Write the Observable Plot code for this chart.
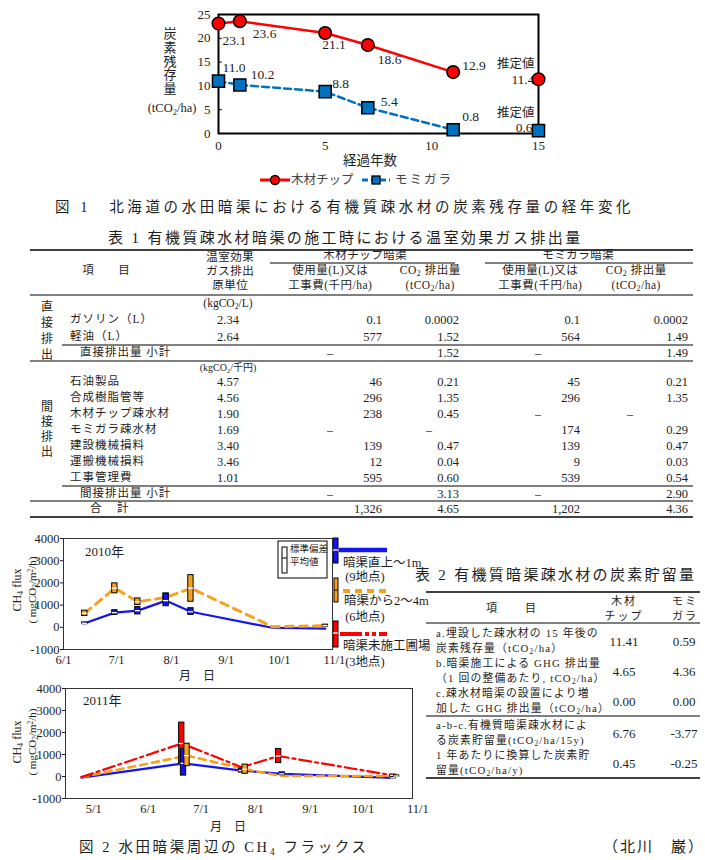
<!DOCTYPE html>
<html><head><meta charset="utf-8">
<script src="https://cdn.jsdelivr.net/npm/d3@7"></script>
<script src="https://cdn.jsdelivr.net/npm/@observablehq/plot@0.6"></script>
<style>
html,body{margin:0;padding:0;background:#fff;}
#root{position:relative;width:705px;height:860px;overflow:hidden;background:#fff;
 font-family:"Liberation Serif","Noto Sans CJK JP",serif;color:#1e1e1e;font-size:12px;}
#root svg{position:absolute;}
.t{position:absolute;white-space:nowrap;line-height:1;}
.t sub{font-size:0.68em;line-height:0;vertical-align:baseline;position:relative;top:0.3em;}
.t sup{font-size:0.68em;line-height:0;vertical-align:baseline;position:relative;top:-0.4em;}
</style></head><body><div id="root"></div>
<script>
// ================= DATA =================
// Figure 1: carbon remaining (tCO2/ha) by years elapsed
const fig1Years = [0, 1, 5, 7, 11];
const chipRemain = [23.1, 23.6, 21.1, 18.6, 12.9];
const huskRemain = [11.0, 10.2, 8.8, 5.4, 0.8];
const estimateYear = 15;
const chipEstimate = 11.4;
const huskEstimate = 0.6;
const fig1XTicks = [0, 5, 10, 15];
const fig1YTicks = [0, 5, 10, 15, 20, 25];
const fig1SeriesNames = ["木材チップ", "モミガラ"];

// Table 1
const directItems = ["ガソリン（L）", "軽油（L）"];
const directFactor = ["2.34", "2.64"];
const directChipUse = ["0.1", "577"];
const directChipCO2 = ["0.0002", "1.52"];
const directHuskUse = ["0.1", "564"];
const directHuskCO2 = ["0.0002", "1.49"];
const directSubtotal = ["–", "1.52", "–", "1.49"];
const indirectItems = ["石油製品", "合成樹脂管等", "木材チップ疎水材", "モミガラ疎水材", "建設機械損料", "運搬機械損料", "工事管理費"];
const indirectFactor = ["4.57", "4.56", "1.90", "1.69", "3.40", "3.46", "1.01"];
const indirectChipUse = ["46", "296", "238", "–", "139", "12", "595"];
const indirectChipCO2 = ["0.21", "1.35", "0.45", "–", "0.47", "0.04", "0.60"];
const indirectHuskUse = ["45", "296", "–", "174", "139", "9", "539"];
const indirectHuskCO2 = ["0.21", "1.35", "–", "0.29", "0.47", "0.03", "0.54"];
const indirectSubtotal = ["–", "3.13", "–", "2.90"];
const grandTotal = ["1,326", "4.65", "1,202", "4.36"];

// Table 2
const t2Items = [
  ["a.埋設した疎水材の 15 年後の", "炭素残存量（tCO<sub>2</sub>/ha）"],
  ["b.暗渠施工による GHG 排出量", "（1 回の整備あたり, tCO<sub>2</sub>/ha）"],
  ["c.疎水材暗渠の設置により増", "加した GHG 排出量（tCO<sub>2</sub>/ha）"],
  ["a-b-c.有機質暗渠疎水材によ", "る炭素貯留量(tCO<sub>2</sub>/ha/15y)"],
  ["1 年あたりに換算した炭素貯", "留量(tCO<sub>2</sub>/ha/y)"]
];
const t2Chip = ["11.41", "4.65", "0.00", "6.76", "0.45"];
const t2Husk = ["0.59", "4.36", "0.00", "-3.77", "-0.25"];

// Figure 2: CH4 flux (mgCO2/m2/h), mean and ±SD range
const fluxNames = ["暗渠直上～1m", "暗渠から2～4m", "暗渠未施工圃場"];
const fluxSites = ["(9地点)", "(6地点)", "(3地点)"];
const f2010Dates = ["2010-06-13", "2010-06-30", "2010-07-13", "2010-07-29", "2010-08-12", "2010-09-27", "2010-10-27"];
const f2010AboveMean = [180, 660, 750, 1200, 700, -20, -60];
const f2010AboveLow  = [140, 560, 580, 950, 560, -20, -60];
const f2010AboveHigh = [220, 770, 910, 1500, 860, -20, -60];
const f2010NearMean  = [630, 1760, 1150, 1350, 1760, 30, 70];
const f2010NearLow   = [510, 1530, 1000, 1260, 1150, 30, 20];
const f2010NearHigh  = [750, 1980, 1300, 1530, 2350, 30, 120];

const f2011AboveDates = ["2011-04-24", "2011-06-21", "2011-07-24", "2011-08-16", "2011-10-18"];
const f2011AboveMean  = [-50, 600, 270, 120, -60];
const f2011AboveLow   = [-50, 40, 180, 60, -90];
const f2011AboveHigh  = [-50, 1250, 360, 190, -30];
const f2011NearDates  = ["2011-04-24", "2011-06-23", "2011-07-26", "2011-08-16", "2011-10-20"];
const f2011NearMean   = [-30, 950, 330, 20, 20];
const f2011NearLow    = [-30, 470, 120, 20, -10];
const f2011NearHigh   = [-30, 1490, 540, 20, 50];
const f2011NoneDates  = ["2011-04-24", "2011-06-20", "2011-07-24", "2011-08-14", "2011-10-18"];
const f2011NoneMean   = [-30, 1500, 420, 930, 50];
const f2011NoneLow    = [-30, 610, 420, 610, 10];
const f2011NoneHigh   = [-30, 2450, 420, 1250, 90];
const fluxYTicks = [-1000, 0, 1000, 2000, 3000, 4000];
const f2010XTicks = ["2010-06-01", "2010-07-01", "2010-08-01", "2010-09-01", "2010-10-01", "2010-11-01"];
const f2011XTicks = ["2011-05-01", "2011-06-01", "2011-07-01", "2011-08-01", "2011-09-01", "2011-10-01", "2011-11-01"];

// ================= LAYOUT HELPERS =================
const RED = "#ff0000", BLUE1 = "#0070c0", BLUE2 = "#1414ee", ORANGE = "#f8a020";
const FONT = '"Liberation Serif","Noto Sans CJK JP",serif';
const root = d3.select("#root");
function place(svg, left, top) {
  d3.select(svg).style("position", "absolute").style("left", left + "px").style("top", top + "px");
  root.node().appendChild(svg);
}
const deco = root.append("svg").attr("width", 705).attr("height", 860).style("left", 0).style("top", 0);
function L(x1, y1, x2, y2, o = {}) {
  deco.append("line").attr("x1", x1).attr("y1", y1).attr("x2", x2).attr("y2", y2)
    .attr("stroke", o.s || "#000").attr("stroke-width", o.w || 1)
    .attr("stroke-dasharray", o.d || null);
}
function R(x, y, w, h, fill, o = {}) {
  deco.append("rect").attr("x", x).attr("y", y).attr("width", w).attr("height", h)
    .attr("fill", fill).attr("stroke", o.s || "#000").attr("stroke-width", o.w || 1);
}
function T(html, x, y, o = {}) {
  const a = o.a || "s";
  const d = root.append("div").attr("class", "t").html(html)
    .style("left", x + "px").style("top", y + "px")
    .style("transform", `translate(${a === "m" ? "-50%" : a === "e" ? "-100%" : "0"},-50%)` + (o.rot ? " rotate(-90deg)" : ""));
  if (o.fs) d.style("font-size", o.fs + "px");
  if (o.ls != null) { d.style("letter-spacing", o.ls + "px"); if (a === "m") d.style("padding-left", o.ls + "px"); }
  if (o.c) d.style("color", o.c);
  return d;
}

// ================= FIGURE 1 =================
const fmt1 = d3.format(".1f");
const chipPts = fig1Years.map((x, i) => ({x, v: chipRemain[i]}));
const huskPts = fig1Years.map((x, i) => ({x, v: huskRemain[i]}));
const chipEst = [{x: estimateYear, v: chipEstimate}];
const huskEst = [{x: estimateYear, v: huskEstimate}];
const chipOff = [[4, 17], [13, 13], [-3, 12], [10, 15], [9, -6]];
const huskOff = [[4, -13], [11, -10], [7, -8], [13, -6], [9, -13]];
const fig1 = Plot.plot({
  width: 705, height: 170, marginLeft: 218, marginRight: 167, marginTop: 14, marginBottom: 37,
  style: {fontFamily: FONT, fontSize: "13px", color: "#1e1e1e", background: "transparent", overflow: "visible"},
  x: {domain: [0, 15], ticks: fig1XTicks, tickSize: 0, tickPadding: 7, label: null},
  y: {domain: [0, 25], ticks: fig1YTicks, tickSize: 0, tickPadding: 8, label: null},
  marks: [
    Plot.ruleY(fig1YTicks.slice(1, -1), {x1: 0, x2: 0.18, stroke: "#000"}),
    Plot.frame({stroke: "#000", strokeWidth: 2}),
    Plot.line(chipPts, {x: "x", y: "v", stroke: RED, strokeWidth: 2.5}),
    Plot.line(huskPts, {x: "x", y: "v", stroke: BLUE1, strokeWidth: 2.5, strokeDasharray: "7,4"}),
    Plot.text(chipEst, {x: "x", y: "v", text: e => fmt1(e.v), dx: -4, dy: 0, textAnchor: "end", fontSize: 13.5}),
    Plot.text(huskEst, {x: "x", y: "v", text: e => fmt1(e.v), dx: -6, dy: -3, textAnchor: "end", fontSize: 13.5}),
    Plot.dot(chipPts.concat(chipEst), {x: "x", y: "v", r: 6.3, fill: RED, stroke: "#000", strokeWidth: 1.5}),
    Plot.dot(huskPts.concat(huskEst), {x: "x", y: "v", symbol: "square", r: 6.8, fill: BLUE1, stroke: "#000", strokeWidth: 1.5}),
    ...chipPts.map((d, i) => Plot.text([d], {x: "x", y: "v", text: e => fmt1(e.v), dx: chipOff[i][0], dy: chipOff[i][1], textAnchor: "start", fontSize: 13.5})),
    ...huskPts.map((d, i) => Plot.text([d], {x: "x", y: "v", text: e => fmt1(e.v), dx: huskOff[i][0], dy: huskOff[i][1], textAnchor: "start", fontSize: 13.5})),
    Plot.text(chipEst, {x: "x", y: "v", text: () => "推定値", dx: -4, dy: -15, textAnchor: "end", fontSize: 12.5}),
    Plot.text(huskEst, {x: "x", y: "v", text: () => "推定値", dx: -4, dy: -18, textAnchor: "end", fontSize: 12.5})
  ]
});
place(fig1, 0, 0);

// ================= FIGURE 2 =================
const parse = d3.utcParse("%Y-%m-%d");
function series(dates, mean, lo, hi) { return dates.map((d, i) => ({date: parse(d), mean: mean[i], lo: lo[i], hi: hi[i]})); }
const shift = (d, days) => new Date(+d + days * 864e5);
const BAR = 1.5;
function fluxPlot(lines, bars, o) {
  const marks = [Plot.frame({stroke: "#333", strokeWidth: 1})];
  for (const s of lines) marks.push(Plot.line(s.data, {x: "date", y: "mean", stroke: s.color, strokeWidth: s.width, strokeDasharray: s.dash}));
  for (const s of bars) {
    const b = s.data.filter(d => d.hi > d.lo);
    marks.push(Plot.rect(b, {x1: d => shift(d.date, -BAR), x2: d => shift(d.date, BAR), y1: "lo", y2: "hi", fill: s.color, stroke: "#000", strokeWidth: 1}));
    marks.push(Plot.ruleY(b, {x1: d => shift(d.date, -BAR), x2: d => shift(d.date, BAR), y: "mean", stroke: "#fff", strokeWidth: 1.3}));
  }
  return Plot.plot({
    width: o.width, height: o.height, marginLeft: o.ml, marginRight: o.mr, marginTop: o.mt, marginBottom: o.mb,
    style: {fontFamily: FONT, fontSize: "12.5px", color: "#1e1e1e", background: "transparent", overflow: "visible"},
    x: {type: "utc", domain: o.domain, ticks: o.ticks.map(parse), tickFormat: d3.utcFormat("%-m/%-d"), tickSize: 0, tickPadding: 6, label: null},
    y: {domain: [-1000, 4000], ticks: fluxYTicks, tickFormat: d => String(d), tickSize: 3, tickPadding: 1, label: null},
    marks
  });
}
const above10 = {data: series(f2010Dates, f2010AboveMean, f2010AboveLow, f2010AboveHigh), color: BLUE2, width: 2.2};
const near10 = {data: series(f2010Dates, f2010NearMean, f2010NearLow, f2010NearHigh), color: ORANGE, width: 3, dash: "8,6"};
const flux2010 = fluxPlot([above10, near10], [near10, above10], {
  width: 345, height: 145, ml: 63, mr: 13, mt: 10, mb: 24,
  domain: [parse("2010-06-01"), parse("2010-10-31")], ticks: f2010XTicks
});
place(flux2010, 0, 528);

const above11 = {data: series(f2011AboveDates, f2011AboveMean, f2011AboveLow, f2011AboveHigh), color: BLUE2, width: 2.2};
const near11 = {data: series(f2011NearDates, f2011NearMean, f2011NearLow, f2011NearHigh), color: ORANGE, width: 2.6, dash: "7,5"};
const none11 = {data: series(f2011NoneDates, f2011NoneMean, f2011NoneLow, f2011NoneHigh), color: RED, width: 2.2, dash: "12,4,3,4"};
const flux2011 = fluxPlot([above11, near11, none11], [none11, above11, near11], {
  width: 420, height: 140, ml: 65, mr: 8, mt: 10, mb: 20,
  domain: [parse("2011-04-15"), parse("2011-10-29")], ticks: f2011XTicks
});
place(flux2011, 0, 678);

// ================= FIGURE 1 TEXT =================
["炭", "素", "残", "存", "量"].forEach((c, i) => T(c, 170, 33 + i * 13.8, {a: "m", fs: 13}));
T("(tCO<sub>2</sub>/ha)", 172, 108, {a: "m", fs: 12.5});
T("経過年数", 370, 161, {a: "m", fs: 13.5});
L(260, 180, 290, 180, {s: RED, w: 3});
deco.append("circle").attr("cx", 275).attr("cy", 180).attr("r", 4.5).attr("fill", RED).attr("stroke", "#000").attr("stroke-width", 1.3);
T(fig1SeriesNames[0], 291, 180, {fs: 12.5, c: "#444"});
L(362, 180, 390, 180, {s: BLUE1, w: 3, d: "6,3"});
R(372, 176, 8, 8, BLUE1, {w: 1.3});
T(fig1SeriesNames[1], 395, 180, {fs: 12.5, ls: 2, c: "#444"});
T("図 1　北海道の水田暗渠における有機質疎水材の炭素残存量の経年変化", 55, 207, {fs: 14.5, ls: 3.6});

// ================= TABLE 1 =================
T("表 1 有機質疎水材暗渠の施工時における温室効果ガス排出量", 108, 238, {fs: 15, ls: 2.4});
L(30, 250, 693, 250, {w: 1.5});
L(270, 263, 455, 263); L(485, 263, 693, 263);
L(30, 295, 693, 295);
L(62, 345, 693, 345);
L(30, 361, 693, 361);
L(62, 486, 693, 486);
L(30, 501, 693, 501);
L(30, 517, 693, 517, {w: 1.5});
const hf = {fs: 11.5, ls: 0.5, a: "m"};
T("木材チップ暗渠", 365, 256, hf);
T("モミガラ暗渠", 578, 256, hf);
T("項　　目", 106, 271, hf);
T("温室効果", 230, 258, hf); T("ガス排出", 230, 272, hf); T("原単位", 230, 286, hf);
T("使用量(L)又は", 330, 271, hf); T("工事費(千円/ha)", 330, 286, hf);
T("CO<sub>2</sub> 排出量", 430, 271, hf); T("(tCO<sub>2</sub>/ha)", 430, 286, hf);
T("使用量(L)又は", 540, 271, hf); T("工事費(千円/ha)", 540, 286, hf);
T("CO<sub>2</sub> 排出量", 636, 271, hf); T("(tCO<sub>2</sub>/ha)", 636, 286, hf);
T("(kgCO<sub>2</sub>/L)", 228, 304, {a: "m", fs: 11.5});
T("(kgCO<sub>2</sub>/千円)", 228, 368, {a: "m", fs: 10});
["直", "接", "排", "出"].forEach((c, i) => T(c, 47, 307 + i * 16, {a: "m", fs: 12}));
["間", "接", "排", "出"].forEach((c, i) => T(c, 47, 407 + i * 15, {a: "m", fs: 12}));
const colRight = [382, 459, 580, 688];
const colMid = [330, 429, 538, 630];
const nf = {fs: 12.5};
function cell(v, k, y) {
  if (v === "–") T(v, colMid[k], y, {a: "m", fs: 12});
  else T(v, colRight[k], y, {a: "e", fs: 12.5});
}
const directY = [320, 337];
directItems.forEach((it, i) => {
  const y = directY[i];
  T(it, 70, y, {fs: 11.5, ls: 1});
  T(directFactor[i], 228, y, {a: "m", ...nf});
  [directChipUse[i], directChipCO2[i], directHuskUse[i], directHuskCO2[i]].forEach((v, k) => cell(v, k, y));
});
T("直接排出量 小計", 80, 353, {fs: 11.5, ls: 1});
directSubtotal.forEach((v, k) => cell(v, k, 353));
const indY = [382, 398, 414, 430, 446, 462, 478];
indirectItems.forEach((it, i) => {
  const y = indY[i];
  T(it, 70, y, {fs: 11.5, ls: 1});
  T(indirectFactor[i], 228, y, {a: "m", ...nf});
  [indirectChipUse[i], indirectChipCO2[i], indirectHuskUse[i], indirectHuskCO2[i]].forEach((v, k) => cell(v, k, y));
});
T("間接排出量 小計", 80, 494, {fs: 11.5, ls: 1});
indirectSubtotal.forEach((v, k) => cell(v, k, 494));
T("合　計", 90, 509, {fs: 11.5, ls: 2});
grandTotal.forEach((v, k) => cell(v, k, 509));

// ================= TABLE 2 =================
T("表 2 有機質暗渠疎水材の炭素貯留量", 415, 575, {fs: 15, ls: 2.3});
L(426, 592, 700, 592, {w: 1.5});
L(426, 623, 700, 623);
L(426, 716, 700, 716);
L(426, 778, 700, 778, {w: 1.5});
const t2h = {a: "m", fs: 11, ls: 2};
T("項　　目", 511, 608, t2h);
T("木材", 623, 601, t2h); T("チップ", 623, 616, t2h);
T("モミ", 684, 601, t2h); T("ガラ", 684, 616, t2h);
const t2Y = [641, 671, 701, 733, 763];
t2Items.forEach((lines, i) => {
  T(lines[0], 436, t2Y[i] - 8, {fs: 10.8, ls: 1.2});
  T(lines[1], 436, t2Y[i] + 7, {fs: 10.8, ls: 1.2});
  T(t2Chip[i], 624, t2Y[i], {a: "m", fs: 13});
  T(t2Husk[i], 684, t2Y[i], {a: "m", fs: 13});
});

// ================= FIGURE 2 TEXT & LEGENDS =================
T("2010年", 85, 551, {fs: 13});
T("2011年", 83, 700, {fs: 13});
R(278, 541, 49, 37, "none");
R(282, 547, 5, 26, "#fff");
L(282, 558, 287, 558);
T("標準偏差", 290, 550, {fs: 9.5});
T("平均値", 290, 563, {fs: 9.5});
// right-side legend
R(333, 538, 5, 25, BLUE2); L(333, 550, 338, 550, {s: "#fff", w: 1.3});
L(339, 550, 387, 550, {s: BLUE2, w: 4.5});
R(334, 578, 4, 24, ORANGE); L(334, 590, 338, 590, {s: "#000", w: 1});
L(343, 591, 387, 591, {s: ORANGE, w: 4, d: "7,5"});
R(333, 621, 5, 26, RED); L(333, 633, 338, 633, {s: "#fff", w: 1.3});
L(340, 634, 387, 634, {s: RED, w: 4, d: "22,3,4,3,4,3"});
const lf = {fs: 12.5};
T(fluxNames[0], 343, 563, lf); T(fluxSites[0], 365, 577, {a: "m", fs: 12.5});
T(fluxNames[1], 344, 601, lf); T(fluxSites[1], 365, 617, {a: "m", fs: 12.5});
T(fluxNames[2], 343, 646, lf); T(fluxSites[2], 365, 662, {a: "m", fs: 12.5});
T("CH<sub>4</sub> flux", 17, 590, {a: "m", fs: 12, rot: true});
T("( mgCO<sub>2</sub>/m<sup>2</sup>/h)", 32, 590, {a: "m", fs: 11, rot: true});
T("CH<sub>4</sub> flux", 17, 742, {a: "m", fs: 12, rot: true});
T("( mgCO<sub>2</sub>/m<sup>2</sup>/h)", 32, 742, {a: "m", fs: 11, rot: true});
T("月　日", 197, 676, {a: "m", fs: 12});
T("月　日", 228, 827, {a: "m", fs: 12});
T("図 2 水田暗渠周辺の CH<sub>4</sub> フラックス", 79, 847, {fs: 14.5, ls: 2.6});
T("（北川　巌）", 603, 847, {fs: 15, ls: 2});
</script></body></html>
